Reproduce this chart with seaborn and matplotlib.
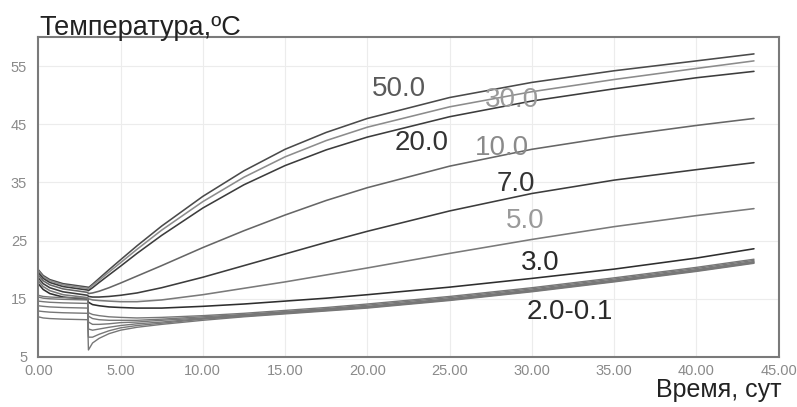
import pandas as pd
import matplotlib
matplotlib.use("Agg")
import matplotlib.pyplot as plt
import seaborn as sns

# time grid, days (t=3 twice: before and after the jump)
days = [0, 0.3, 0.7, 1.5, 3, 3.05, 3.3, 3.7, 4.3, 5, 6, 7.5, 10, 12.5, 15,
        17.5, 20, 25, 30, 35, 40, 43.5]

# temperature, C
t_50 = [20.0, 19.0, 18.3, 17.6, 17.0, 16.9, 17.5, 18.5, 20.0, 21.7, 24.1, 27.5,
        32.6, 37.0, 40.7, 43.6, 46.0, 49.6, 52.2, 54.2, 55.9, 57.1]
t_30 = [19.8, 18.8, 18.1, 17.4, 16.8, 16.7, 17.3, 18.2, 19.6, 21.2, 23.5, 26.8,
        31.7, 35.9, 39.4, 42.2, 44.5, 48.0, 50.6, 52.7, 54.6, 55.9]
t_20 = [19.5, 18.5, 17.8, 17.1, 16.5, 16.4, 16.9, 17.8, 19.1, 20.6, 22.8, 25.9,
        30.6, 34.6, 37.9, 40.6, 42.8, 46.3, 49.0, 51.1, 53.0, 54.1]
t_10 = [19.1, 18.1, 17.4, 16.7, 16.1, 15.9, 16.0, 16.3, 16.9, 17.7, 18.9, 20.7,
        23.8, 26.7, 29.4, 31.9, 34.1, 37.8, 40.7, 42.9, 44.8, 46.0]
t_7 = [18.6, 17.6, 16.9, 16.2, 15.6, 15.4, 15.3, 15.3, 15.4, 15.6, 16.0, 16.9,
       18.7, 20.7, 22.7, 24.7, 26.6, 30.1, 33.1, 35.4, 37.2, 38.4]
t_5 = [18.1, 17.1, 16.4, 15.7, 15.2, 15.0, 14.8, 14.7, 14.6, 14.5, 14.5, 14.8,
       15.7, 16.8, 17.9, 19.1, 20.3, 22.8, 25.2, 27.4, 29.3, 30.5]
t_3 = [17.6, 16.6, 15.9, 15.3, 14.9, 14.4, 14.0, 13.8, 13.6, 13.5, 13.4, 13.4,
       13.7, 14.1, 14.6, 15.1, 15.7, 17.0, 18.5, 20.1, 22.0, 23.6]
t_2 = [15.6, 15.4, 15.3, 15.2, 15.1, 12.6, 12.3, 12.1, 11.9, 11.8, 11.7, 11.8,
       12.1, 12.5, 13.0, 13.5, 14.1, 15.4, 16.9, 18.6, 20.4, 21.8]
t_1 = [15.3, 15.1, 15.0, 14.9, 14.8, 12.0, 11.6, 11.4, 11.3, 11.3, 11.3, 11.5,
       11.9, 12.3, 12.8, 13.3, 13.9, 15.2, 16.7, 18.4, 20.2, 21.6]
t_05 = [14.6, 14.5, 14.4, 14.3, 14.2, 11.0, 10.6, 10.6, 10.7, 10.9, 11.0, 11.3,
        11.7, 12.2, 12.7, 13.2, 13.7, 15.0, 16.5, 18.2, 20.0, 21.4]
t_03 = [13.8, 13.7, 13.6, 13.5, 13.4, 9.8, 9.6, 9.8, 10.1, 10.4, 10.7, 11.0,
        11.6, 12.1, 12.6, 13.1, 13.6, 14.9, 16.4, 18.1, 19.9, 21.3]
t_02 = [12.9, 12.8, 12.7, 12.6, 12.5, 8.4, 8.4, 8.9, 9.5, 10.0, 10.4, 10.8,
        11.5, 12.0, 12.5, 13.0, 13.5, 14.8, 16.3, 18.0, 19.8, 21.2]
t_01 = [11.9, 11.7, 11.6, 11.5, 11.4, 6.2, 7.4, 8.2, 9.0, 9.6, 10.1, 10.6,
        11.3, 11.9, 12.4, 12.9, 13.4, 14.7, 16.2, 17.9, 19.7, 21.1]

curves = {"50.0": t_50, "30.0": t_30, "20.0": t_20, "10.0": t_10, "7.0": t_7,
          "5.0": t_5, "3.0": t_3, "2.0": t_2, "1.0": t_1, "0.5": t_05,
          "0.3": t_03, "0.2": t_02, "0.1": t_01}

# curve labels and where they sit (days, C)
label_text = ["50.0", "30.0", "20.0", "10.0", "7.0", "5.0", "3.0", "2.0-0.1"]
label_x = [21.95, 28.8, 23.3, 28.2, 29.0, 29.6, 30.5, 32.3]
label_y = [51.0, 49.1, 41.7, 40.9, 34.7, 28.3, 21.2, 12.8]
label_col = ["#5a5a5a", "#9a9a9a", "#333333", "#8a8a8a", "#333333", "#9a9a9a",
             "#2a2a2a", "#2a2a2a"]

line_col = {"50.0": "#4a4a4a", "30.0": "#8c8c8c", "20.0": "#3c3c3c",
            "10.0": "#666666", "7.0": "#3c3c3c", "5.0": "#7a7a7a",
            "3.0": "#2e2e2e"}

x_ticks = [0, 5, 10, 15, 20, 25, 30, 35, 40, 45]
y_ticks = [5, 15, 25, 35, 45, 55]

sns.set_style("whitegrid", {"grid.color": "#ececec"})
plt.rcParams["font.family"] = ["Liberation Sans", "DejaVu Sans"]

fig = plt.figure(figsize=(7.97, 4.07), dpi=100)
ax = fig.add_axes([0.048, 0.123, 0.929, 0.786])

for name, vals in curves.items():
    df = pd.DataFrame({"t": days, "temp": vals})
    sns.lineplot(data=df, x="t", y="temp", ax=ax, estimator=None, sort=False,
                 color=line_col.get(name, "#777777"),
                 linewidth=1.15 if name in line_col else 1.0)

for txt, lx, ly, c in zip(label_text, label_x, label_y, label_col):
    ax.text(lx, ly, txt, color=c, fontsize=20, ha="center", va="center")

ax.set_xlim(0, 45)
ax.set_ylim(5, 60)
ax.set_xticks(x_ticks)
ax.set_xticklabels([f"{v:.2f}" for v in x_ticks])
ax.set_yticks(y_ticks)
ax.tick_params(length=0, labelsize=10.5, labelcolor="#8a8a8a")
ax.tick_params(axis="y", pad=8)
ax.tick_params(axis="x", pad=5)
ax.set_xlabel("")
ax.set_ylabel("")
for s in ax.spines.values():
    s.set_color("#7a7a7a")
    s.set_linewidth(1.5)

fig.text(0.05, 0.915, "Температура,ºС", fontsize=19.5, color="#222222",
         ha="left", va="baseline")
fig.text(0.98, 0.025, "Время, сут", fontsize=18, color="#222222",
         ha="right", va="baseline")

fig.savefig("out.png", dpi=100)
